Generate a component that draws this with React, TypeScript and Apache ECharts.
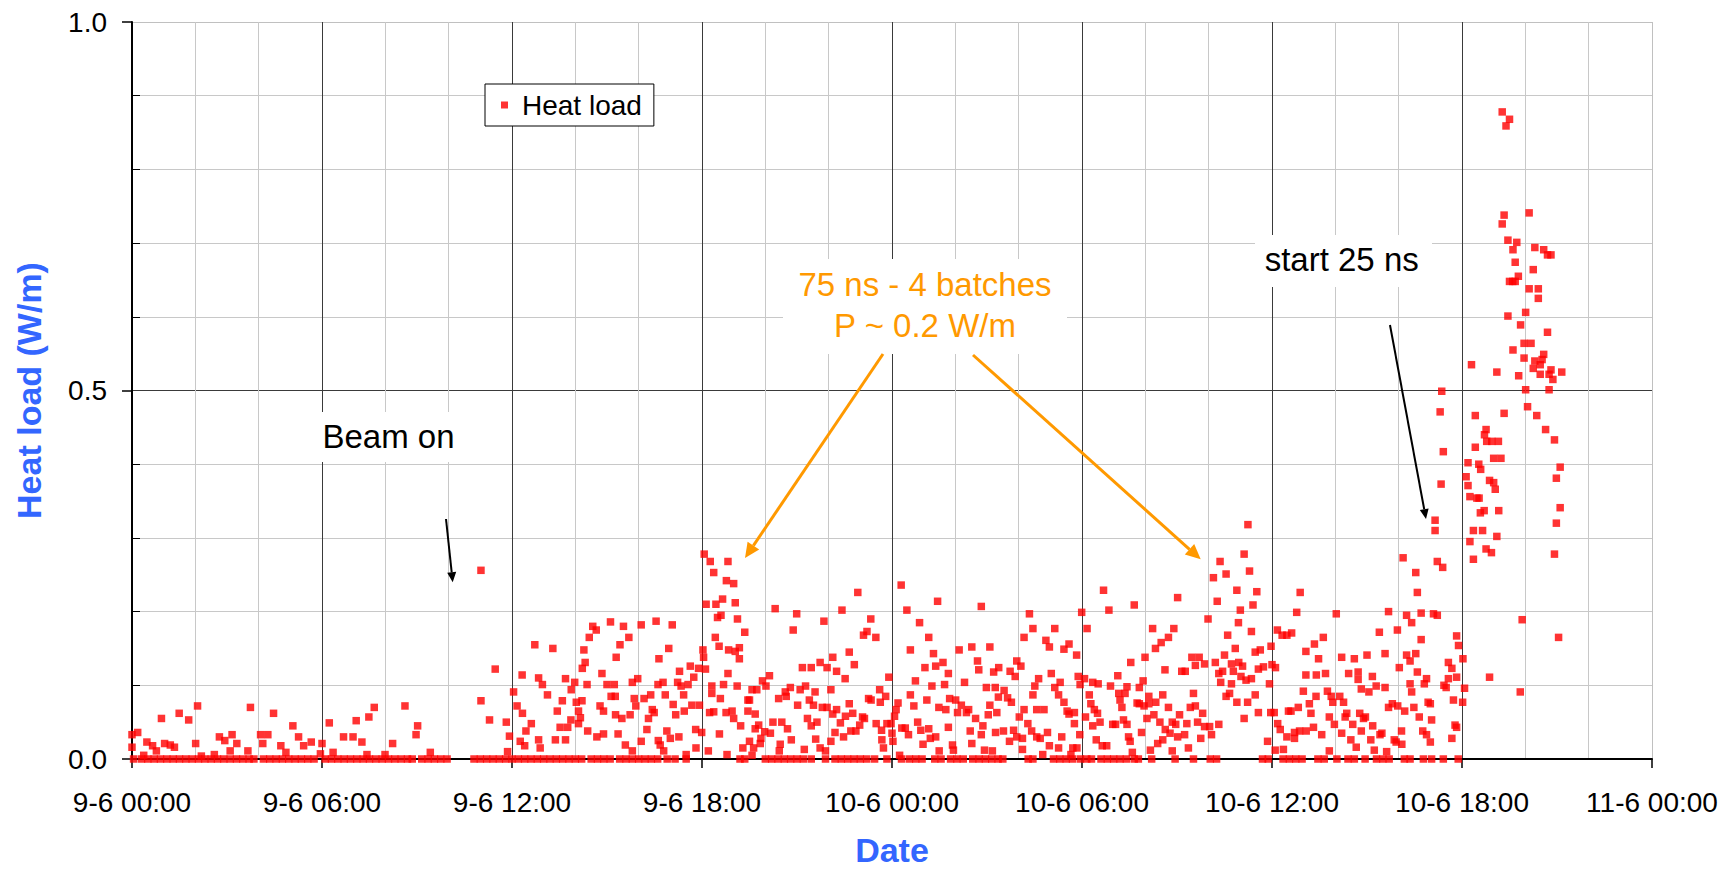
import React, { useEffect, useRef } from 'react';
import * as echarts from 'echarts';

type P = [number, number];

const FONT = "'Liberation Sans', Arial, sans-serif";

// hours after 9-6 00:00
const xTickLabels = ['9-6 00:00', '9-6 06:00', '9-6 12:00', '9-6 18:00', '10-6 00:00', '10-6 06:00', '10-6 12:00', '10-6 18:00', '11-6 00:00'];
const yTickLabels = ['0.0', '0.5', '1.0'];

// samples sitting on zero heat load (hour)
const zeroHours: number[] = [
  0.05, 0.3, 0.5, 0.7, 0.9, 1.1, 1.3, 1.5, 1.7, 1.9, 2.1, 2.3, 2.5, 2.7, 2.9, 3.1, 3.3, 3.5, 3.7, 3.85, 4.15, 4.35, 4.55, 4.75, 4.95,
  5.15, 5.35, 5.55, 5.75, 6.1, 6.3, 6.5, 6.7, 6.9, 7.1, 7.3, 7.5, 7.7, 7.9, 8.1, 8.3, 8.5, 8.7, 8.85, 9.15, 9.35, 9.55, 9.75, 9.95,
  10.8, 11.0, 11.2, 11.4, 11.6, 11.8, 12.0, 12.2, 12.4, 12.6, 12.8, 13.0, 13.2, 13.4, 13.6, 13.8, 14.0, 14.2, 14.5, 14.7, 14.9,
  15.1, 15.4, 15.6, 15.8, 16.0, 16.2, 16.4, 16.6, 16.9, 17.15, 17.5,
  19.2, 19.35, 20.0, 20.2, 20.4, 20.6, 20.8, 21.0, 21.2, 21.45, 21.9, 22.2, 22.4, 22.6, 22.8, 23.0, 23.2, 23.45, 23.84, 24.3, 24.55,
  24.75, 24.95, 25.35, 25.55, 25.85, 26.05, 26.25, 26.55, 26.75, 26.95, 27.15, 27.35,
  27.5, 28.3, 28.45, 29.1, 29.3, 29.5, 29.7, 29.95, 30.15, 30.3, 30.6, 30.8, 31.0, 31.2, 31.4, 31.65, 31.78, 32.2, 32.94, 33.52,
  34.05, 34.25, 35.7, 35.88, 36.35, 36.55, 36.75, 36.95, 37.45, 37.65, 38.05, 38.4, 38.6, 38.94, 39.3, 39.5, 39.7, 40.18, 40.36,
  40.78, 41.04, 41.41, 41.88,
];

// 9-6 00:00 - 10:00, no beam
const noBeamPoints: P[] = [
  [0.0, 0.016], [0.0, 0.033], [0.18, 0.036], [0.37, 0.005], [0.47, 0.023], [0.65, 0.018], [0.77, 0.011], [0.93, 0.055], [1.03, 0.021],
  [1.21, 0.019], [1.34, 0.016], [1.49, 0.062], [1.79, 0.053], [2.01, 0.021], [2.07, 0.072], [2.19, 0.004], [2.6, 0.006], [2.76, 0.030],
  [2.93, 0.025], [3.1, 0.011], [3.16, 0.033], [3.31, 0.021], [3.66, 0.011], [3.74, 0.070], [4.06, 0.033], [4.13, 0.021], [4.29, 0.033],
  [4.47, 0.062], [4.7, 0.018], [4.86, 0.009], [5.08, 0.045], [5.26, 0.030], [5.42, 0.018], [5.66, 0.023], [5.95, 0.007], [6.0, 0.021],
  [6.23, 0.049], [6.35, 0.009], [6.68, 0.030], [6.98, 0.030], [7.08, 0.052], [7.26, 0.023], [7.42, 0.006], [7.48, 0.057], [7.65, 0.070],
  [7.99, 0.006], [8.23, 0.021], [8.62, 0.072], [8.97, 0.033], [9.02, 0.045], [9.42, 0.009],
];

// 9-6 11:00 - 18:00, first fills
const firstFillPoints: P[] = [
  [11.02, 0.256], [11.47, 0.122], [11.02, 0.079], [11.29, 0.053], [11.82, 0.050], [11.92, 0.031], [11.86, 0.010], [12.05, 0.091],
  [12.16, 0.072], [12.33, 0.062], [12.32, 0.114], [12.26, 0.024], [12.44, 0.038], [12.61, 0.048], [12.4, 0.018], [12.72, 0.155],
  [12.84, 0.110], [12.96, 0.101], [12.84, 0.026], [12.89, 0.015], [13.12, 0.087], [13.29, 0.150], [13.37, 0.026], [13.43, 0.065],
  [13.52, 0.043], [13.59, 0.079], [13.69, 0.109], [13.69, 0.026], [13.76, 0.043], [13.86, 0.053], [13.87, 0.094], [13.98, 0.104],
  [14.03, 0.077], [14.1, 0.065], [14.16, 0.056], [14.1, 0.048], [14.21, 0.079], [14.22, 0.123], [14.27, 0.148], [14.31, 0.131],
  [14.37, 0.101], [14.39, 0.038], [14.44, 0.165], [14.55, 0.180], [14.66, 0.175], [14.68, 0.030], [14.78, 0.072], [14.84, 0.116],
  [14.89, 0.065], [14.89, 0.034], [15.0, 0.101], [15.11, 0.186], [15.13, 0.085], [15.23, 0.101], [15.26, 0.085], [15.29, 0.138],
  [15.27, 0.060], [15.35, 0.034], [15.41, 0.155], [15.47, 0.055], [15.52, 0.180], [15.58, 0.019], [15.69, 0.165], [15.73, 0.060],
  [15.8, 0.104], [15.8, 0.011], [15.86, 0.082], [15.91, 0.072], [15.97, 0.109], [16.08, 0.182], [16.08, 0.024], [16.17, 0.082],
  [16.26, 0.040], [16.31, 0.055], [16.38, 0.087], [16.43, 0.067], [16.49, 0.063], [16.55, 0.187], [16.61, 0.101], [16.62, 0.025],
  [16.68, 0.019], [16.77, 0.104], [16.79, 0.011], [16.64, 0.136], [16.84, 0.087], [16.89, 0.038], [16.95, 0.150], [17.0, 0.028],
  [17.06, 0.182], [17.09, 0.074], [17.17, 0.060], [17.23, 0.104], [17.27, 0.030], [17.29, 0.119], [17.34, 0.099], [17.42, 0.087],
  [17.44, 0.065], [17.5, 0.006], [17.56, 0.101], [17.63, 0.126], [17.68, 0.073], [17.74, 0.111], [17.8, 0.040], [17.81, 0.015],
  [17.89, 0.123], [17.92, 0.073], [17.99, 0.036],
];

// 9-6 18:00 - 10-6 03:30, 75 ns
const eveningPoints: P[] = [
  [18.03, 0.148], [18.05, 0.138], [18.11, 0.122], [18.2, 0.011], [18.07, 0.278], [18.26, 0.268], [18.37, 0.253], [18.13, 0.210],
  [18.44, 0.210], [18.65, 0.217], [18.77, 0.242], [18.49, 0.192], [18.6, 0.195], [18.42, 0.165], [18.54, 0.153], [18.84, 0.148],
  [18.82, 0.116], [18.68, 0.101], [18.31, 0.099], [18.31, 0.089], [18.58, 0.082], [18.37, 0.064], [18.24, 0.063], [18.76, 0.063],
  [18.55, 0.034], [18.79, 0.006], [18.82, 0.268], [18.95, 0.065], [19.0, 0.238], [19.05, 0.212], [19.12, 0.190], [19.35, 0.172],
  [19.18, 0.151], [19.05, 0.146], [19.18, 0.136], [19.11, 0.099], [19.0, 0.055], [19.22, 0.045], [19.29, 0.015], [19.45, 0.080],
  [19.5, 0.080], [19.45, 0.065], [19.5, 0.024], [19.58, 0.094], [19.68, 0.061], [19.73, 0.094], [19.63, 0.015], [19.58, 0.005],
  [19.68, 0.041], [19.79, 0.046], [19.86, 0.028], [19.91, 0.106], [20.02, 0.099], [20.13, 0.113], [19.84, 0.021], [19.98, 0.037],
  [20.16, 0.035], [20.24, 0.050], [20.31, 0.204], [20.42, 0.082], [20.47, 0.020], [20.44, 0.011], [20.52, 0.050], [20.63, 0.091],
  [20.7, 0.041], [20.66, 0.085], [20.79, 0.097], [20.82, 0.026], [20.88, 0.175], [20.99, 0.197], [21.02, 0.073], [21.1, 0.094],
  [21.17, 0.124], [21.23, 0.013], [21.27, 0.099], [21.33, 0.055], [21.39, 0.080], [21.45, 0.124], [21.52, 0.073], [21.57, 0.091],
  [21.45, 0.045], [21.63, 0.050], [21.59, 0.027], [21.73, 0.131], [21.73, 0.015], [21.8, 0.070], [21.85, 0.187], [21.9, 0.011],
  [21.95, 0.124], [21.95, 0.070], [22.07, 0.094], [22.07, 0.024], [22.13, 0.138], [22.13, 0.061], [22.2, 0.036], [22.25, 0.119],
  [22.25, 0.067], [22.37, 0.049], [22.42, 0.202], [22.47, 0.030], [22.52, 0.109], [22.53, 0.058], [22.65, 0.145], [22.65, 0.075],
  [22.7, 0.038], [22.76, 0.062], [22.81, 0.128], [22.86, 0.038], [22.92, 0.226], [22.98, 0.046], [23.07, 0.057], [23.1, 0.168],
  [23.13, 0.055], [23.21, 0.173], [23.26, 0.082], [23.33, 0.190], [23.34, 0.080], [23.49, 0.165], [23.5, 0.048], [23.61, 0.094],
  [23.63, 0.077], [23.67, 0.039], [23.68, 0.026], [23.73, 0.015], [23.8, 0.085], [23.84, 0.048], [23.9, 0.111], [23.97, 0.048],
  [24.0, 0.035], [24.03, 0.024], [24.08, 0.058], [24.13, 0.067], [24.19, 0.076], [24.24, 0.005], [24.29, 0.236], [24.31, 0.042],
  [24.42, 0.042], [24.47, 0.202], [24.52, 0.033], [24.58, 0.148], [24.58, 0.087], [24.69, 0.072], [24.74, 0.106], [24.81, 0.050],
  [24.87, 0.185], [24.91, 0.039], [24.98, 0.020], [25.04, 0.124], [25.1, 0.080], [25.16, 0.165], [25.16, 0.041], [25.21, 0.028],
  [25.26, 0.099], [25.31, 0.143], [25.38, 0.030], [25.38, 0.126], [25.44, 0.214], [25.48, 0.070], [25.49, 0.011], [25.61, 0.131],
  [25.66, 0.101], [25.7, 0.067], [25.78, 0.116], [25.78, 0.043], [25.82, 0.082], [25.91, 0.019], [25.94, 0.012], [26.01, 0.080],
  [26.07, 0.063], [26.12, 0.148], [26.19, 0.073], [26.29, 0.104], [26.35, 0.063], [26.42, 0.067], [26.47, 0.038], [26.52, 0.152],
  [26.52, 0.021], [26.64, 0.055], [26.7, 0.133], [26.74, 0.121], [26.82, 0.207], [26.82, 0.033], [26.87, 0.045], [26.92, 0.012],
  [26.98, 0.097], [27.04, 0.060], [27.09, 0.152], [27.09, 0.073], [27.17, 0.011], [27.21, 0.118], [27.26, 0.097], [27.27, 0.036],
  [27.31, 0.063], [27.37, 0.124],
];

// 10-6 03:30 - 12:30, 75 ns
const morningPoints: P[] = [
  [27.36, 0.084], [27.54, 0.093], [27.65, 0.083], [27.73, 0.119], [27.77, 0.077], [27.89, 0.112], [27.94, 0.133], [28.07, 0.126],
  [27.52, 0.038], [27.71, 0.024], [27.84, 0.039], [27.94, 0.030], [28.02, 0.057], [28.12, 0.028], [28.17, 0.067], [28.17, 0.165],
  [28.12, 0.013], [28.29, 0.048], [28.34, 0.197], [28.41, 0.038], [28.45, 0.177], [28.45, 0.087], [28.51, 0.099], [28.57, 0.067],
  [28.63, 0.109], [28.57, 0.030], [28.68, 0.028], [28.76, 0.006], [28.8, 0.067], [28.86, 0.161], [28.91, 0.036], [28.97, 0.152],
  [28.97, 0.018], [29.03, 0.116], [29.14, 0.177], [29.14, 0.097], [29.26, 0.087], [29.26, 0.015], [29.31, 0.104], [29.36, 0.030],
  [29.43, 0.149], [29.43, 0.077], [29.53, 0.065], [29.59, 0.156], [29.59, 0.061], [29.65, 0.006], [29.71, 0.015], [29.76, 0.063],
  [29.76, 0.048], [29.83, 0.141], [29.84, 0.015], [29.88, 0.112], [29.93, 0.033], [29.94, 0.101], [29.99, 0.199], [30.08, 0.109],
  [30.11, 0.057], [30.16, 0.177], [30.23, 0.087], [30.28, 0.075], [30.34, 0.104], [30.34, 0.045], [30.39, 0.067], [30.45, 0.026],
  [30.49, 0.062], [30.51, 0.102], [30.57, 0.050], [30.68, 0.229], [30.64, 0.018], [30.78, 0.018], [30.85, 0.202], [30.9, 0.099],
  [30.97, 0.047], [31.06, 0.047], [31.13, 0.113], [31.16, 0.089], [31.2, 0.080], [31.26, 0.070], [31.31, 0.053], [31.36, 0.089],
  [31.42, 0.098], [31.42, 0.047], [31.47, 0.030], [31.52, 0.024], [31.54, 0.131], [31.59, 0.009], [31.65, 0.209], [31.74, 0.076],
  [31.81, 0.097], [31.81, 0.075], [31.88, 0.036], [31.93, 0.106], [31.96, 0.072], [31.99, 0.138], [32.05, 0.055], [32.11, 0.085],
  [32.11, 0.075], [32.16, 0.012], [32.23, 0.177], [32.27, 0.060], [32.32, 0.150], [32.33, 0.077], [32.39, 0.021], [32.46, 0.050],
  [32.5, 0.158], [32.55, 0.087], [32.55, 0.026], [32.62, 0.121], [32.63, 0.040], [32.73, 0.165], [32.73, 0.070], [32.78, 0.035],
  [32.85, 0.050], [32.85, 0.011], [32.9, 0.177], [32.96, 0.047], [33.02, 0.219], [33.02, 0.030], [33.08, 0.060], [33.15, 0.119],
  [33.24, 0.033], [33.26, 0.119], [33.31, 0.048], [33.36, 0.015], [33.42, 0.070], [33.47, 0.138], [33.52, 0.089], [33.58, 0.127],
  [33.58, 0.072], [33.65, 0.050], [33.7, 0.138], [33.75, 0.028], [33.81, 0.062], [33.87, 0.129], [33.87, 0.044], [33.98, 0.190],
  [34.03, 0.044], [34.09, 0.033], [34.15, 0.246], [34.21, 0.131], [34.27, 0.214], [34.32, 0.116], [34.32, 0.047], [34.36, 0.268],
  [34.38, 0.104], [34.44, 0.119], [34.5, 0.141], [34.55, 0.251], [34.55, 0.085], [34.6, 0.168], [34.66, 0.089], [34.72, 0.129],
  [34.72, 0.102], [34.78, 0.119], [34.84, 0.150], [34.89, 0.229], [34.89, 0.077], [34.94, 0.185], [34.95, 0.131], [35.0, 0.202],
  [35.02, 0.112], [35.07, 0.126], [35.12, 0.278], [35.12, 0.055], [35.18, 0.107], [35.23, 0.077], [35.24, 0.318], [35.29, 0.255],
  [35.35, 0.173], [35.35, 0.109], [35.4, 0.209], [35.47, 0.145], [35.47, 0.087], [35.52, 0.227], [35.57, 0.122], [35.57, 0.063],
  [35.63, 0.148], [35.73, 0.125], [35.86, 0.024], [35.92, 0.102], [35.96, 0.063], [35.97, 0.153], [36.0, 0.128], [36.07, 0.063],
  [36.1, 0.012], [36.11, 0.124], [36.17, 0.175], [36.18, 0.048], [36.26, 0.040], [36.32, 0.168], [36.36, 0.013], [36.47, 0.168],
  [36.47, 0.030], [36.52, 0.065],
];

// 10-6 12:30 - 18:00, 75 ns
const afternoonPoints: P[] = [
  [36.62, 0.171], [36.89, 0.226], [36.78, 0.199], [37.07, 0.146], [37.07, 0.114], [37.4, 0.114], [37.34, 0.156], [37.47, 0.136],
  [37.62, 0.165], [37.69, 0.116], [36.99, 0.092], [36.83, 0.070], [36.6, 0.065], [37.18, 0.075], [37.23, 0.062], [37.39, 0.085],
  [37.31, 0.043], [37.08, 0.038], [36.87, 0.038], [36.71, 0.036], [36.71, 0.028], [37.75, 0.092], [37.87, 0.085], [37.92, 0.077],
  [37.81, 0.057], [37.97, 0.047], [37.57, 0.033], [37.81, 0.011], [38.03, 0.197], [38.14, 0.085], [38.2, 0.138], [38.26, 0.077],
  [38.2, 0.035], [38.31, 0.057], [38.36, 0.062], [38.42, 0.116], [38.49, 0.026], [38.55, 0.047], [38.6, 0.136], [38.66, 0.016],
  [38.72, 0.118], [38.72, 0.108], [38.77, 0.062], [38.82, 0.095], [38.82, 0.038], [38.89, 0.055], [38.95, 0.057], [39.0, 0.141],
  [39.06, 0.091], [39.12, 0.026], [39.17, 0.112], [39.18, 0.045], [39.23, 0.012], [39.29, 0.099], [39.39, 0.172], [39.41, 0.033],
  [39.47, 0.035], [39.57, 0.143], [39.57, 0.097], [39.62, 0.010], [39.68, 0.200], [39.68, 0.070], [39.8, 0.075], [39.86, 0.026],
  [39.92, 0.023], [39.96, 0.175], [39.97, 0.072], [40.02, 0.124], [40.09, 0.038], [40.1, 0.020], [40.14, 0.273], [40.19, 0.065],
  [40.25, 0.141], [40.25, 0.195], [40.36, 0.133], [40.36, 0.102], [40.41, 0.185], [40.41, 0.091], [40.48, 0.070], [40.54, 0.253],
  [40.54, 0.143], [40.59, 0.226], [40.59, 0.118], [40.65, 0.057], [40.71, 0.198], [40.71, 0.162], [40.76, 0.038], [40.81, 0.102],
  [40.88, 0.109], [40.88, 0.033], [40.93, 0.077], [41.0, 0.075], [41.0, 0.023], [41.04, 0.053], [41.1, 0.197], [41.15, 0.324],
  [41.15, 0.310], [41.22, 0.195], [41.22, 0.268], [41.34, 0.373], [41.39, 0.260], [41.43, 0.100], [41.5, 0.097], [41.57, 0.131],
  [41.68, 0.123], [41.57, 0.109], [41.68, 0.028], [41.73, 0.080], [41.78, 0.046], [41.83, 0.043], [41.83, 0.167], [41.89, 0.154],
  [41.83, 0.111], [42.03, 0.136], [42.08, 0.096], [42.02, 0.077],
];

// 10-6 17:15 onwards, 25 ns
const start25nsPoints: P[] = [
  [41.41, 0.417], [41.36, 0.499], [41.31, 0.471], [42.19, 0.402], [42.53, 0.400], [42.59, 0.393], [42.13, 0.383], [42.19, 0.371],
  [42.25, 0.356], [42.47, 0.354], [42.54, 0.354], [42.87, 0.378], [43.0, 0.375], [43.05, 0.366], [42.58, 0.334], [42.7, 0.337],
  [43.16, 0.337], [42.36, 0.310], [42.65, 0.310], [43.1, 0.302], [42.25, 0.295], [42.76, 0.285], [42.93, 0.280], [42.36, 0.271],
  [42.42, 0.423], [42.78, 0.431], [42.94, 0.431], [43.15, 0.431], [43.0, 0.408], [43.23, 0.408], [45.1, 0.396], [44.98, 0.381],
  [45.1, 0.341], [44.98, 0.320], [44.92, 0.278], [44.92, 0.433], [42.87, 0.111], [43.84, 0.091], [43.9, 0.189], [45.05, 0.165],
  [43.27, 0.878], [43.5, 0.868], [43.39, 0.859], [43.33, 0.738], [43.27, 0.726], [44.12, 0.741], [43.45, 0.704], [43.73, 0.701],
  [43.61, 0.691], [44.3, 0.694], [44.58, 0.691], [44.7, 0.684], [44.81, 0.684], [43.68, 0.674], [44.25, 0.664], [43.78, 0.655],
  [43.5, 0.648], [43.6, 0.648], [43.68, 0.648], [44.12, 0.638], [44.41, 0.638], [44.41, 0.625], [44.01, 0.606], [43.45, 0.601],
  [43.85, 0.589], [44.7, 0.579], [43.96, 0.564], [44.18, 0.564], [43.61, 0.555], [43.96, 0.544], [44.58, 0.549], [44.3, 0.540],
  [44.53, 0.542], [44.47, 0.535], [44.25, 0.530], [44.81, 0.528], [45.15, 0.525], [42.3, 0.535], [43.1, 0.525], [43.79, 0.520],
  [44.47, 0.522], [44.75, 0.522], [44.87, 0.515], [44.01, 0.501], [44.75, 0.501], [44.07, 0.478], [42.42, 0.466], [43.33, 0.469],
  [44.36, 0.466], [44.64, 0.447], [42.76, 0.447], [42.71, 0.440],
];

const ORANGE = '#FF9900';
const BLUE = '#3366FF';

export default function App() {
  const ref = useRef<HTMLDivElement>(null);

  useEffect(() => {
    const chart = echarts.init(ref.current as HTMLDivElement, null, { renderer: 'svg' });
    const data: P[] = [
      ...zeroHours.map((h): P => [h, 0]),
      ...noBeamPoints,
      ...firstFillPoints,
      ...eveningPoints,
      ...morningPoints,
      ...afternoonPoints,
      ...start25nsPoints,
    ];
    const xMajorColors = xTickLabels.map((_, i) => (i === xTickLabels.length - 1 ? '#c0c0c0' : '#3a3a3a'));
    const yMajorColors = yTickLabels.map((_, i) => (i === yTickLabels.length - 1 ? '#c0c0c0' : '#3a3a3a'));

    chart.setOption({
      animation: false,
      backgroundColor: '#ffffff',
      textStyle: { fontFamily: FONT },
      grid: { left: 132, top: 22, right: 71, bottom: 110, containLabel: false, outerBoundsMode: 'none' },
      legend: {
        data: ['Heat load'],
        left: 485,
        top: 84,
        padding: [7, 12, 7, 16],
        backgroundColor: '#ffffff',
        borderColor: '#000000',
        borderWidth: 1,
        borderRadius: 0,
        itemWidth: 7,
        itemHeight: 7,
        icon: 'rect',
        textStyle: { fontSize: 28, color: '#000', fontFamily: FONT, padding: [0, 0, 0, 9] },
      },
      xAxis: {
        type: 'value',
        min: 0,
        max: 48,
        interval: 6,
        name: 'Date',
        nameLocation: 'middle',
        nameGap: 74,
        nameTextStyle: { fontSize: 34, fontWeight: 'bold', color: BLUE, fontFamily: FONT },
        axisLine: { show: true, onZero: false, lineStyle: { color: '#000', width: 2 } },
        axisTick: { show: true, length: 9, lineStyle: { color: '#000', width: 1.5 } },
        axisLabel: {
          fontSize: 28,
          color: '#000',
          fontFamily: FONT,
          margin: 29,
          formatter: (v: number) => xTickLabels[Math.round(v / 6)] ?? '',
        },
        splitLine: { show: true, lineStyle: { color: xMajorColors, width: 1 } },
        minorTick: { show: false, splitNumber: 3 },
        minorSplitLine: { show: true, lineStyle: { color: '#c8c8c8', width: 1 } },
      },
      yAxis: [
        {
          type: 'value',
          min: 0,
          max: 1,
          interval: 0.5,
          position: 'left',
          name: 'Heat load (W/m)',
          nameLocation: 'middle',
          nameGap: 86,
          nameTextStyle: { fontSize: 34, fontWeight: 'bold', color: BLUE, fontFamily: FONT },
          axisLine: { show: true, lineStyle: { color: '#000', width: 2 } },
          axisTick: { show: true, length: 10, lineStyle: { color: '#000', width: 1.5 } },
          axisLabel: {
            fontSize: 28,
            color: '#000',
            fontFamily: FONT,
            margin: 25,
            formatter: (v: number) => yTickLabels[Math.round(v / 0.5)] ?? '',
          },
          splitLine: { show: true, lineStyle: { color: yMajorColors, width: 1 } },
          minorTick: { show: false, splitNumber: 5 },
          minorSplitLine: { show: true, lineStyle: { color: '#c8c8c8', width: 1 } },
        },
        {
          type: 'value',
          min: 0,
          max: 1,
          interval: 0.5,
          position: 'left',
          offset: 0,
          axisLine: { show: false },
          axisTick: { show: false, inside: true },
          axisLabel: { show: false },
          splitLine: { show: false },
          minorTick: { show: true, splitNumber: 5, length: 8, lineStyle: { color: '#000', width: 1 } },
        },
      ],
      series: [
        {
          name: 'Heat load',
          type: 'scatter',
          symbol: 'rect',
          symbolSize: 7.5,
          itemStyle: { color: '#FF0000' },
          data,
          z: 3,
        },
      ],
      graphic: [
        // Beam on
        { type: 'rect', z: 50, shape: { x: 311, y: 412, width: 155, height: 50 }, style: { fill: '#fff' } },
        { type: 'text', z: 51, x: 388.5, y: 436, style: { text: 'Beam on', font: `33px ${FONT}`, fill: '#000', align: 'center', verticalAlign: 'middle' } },
        { type: 'line', z: 51, shape: { x1: 446, y1: 519, x2: 451.7, y2: 572.3 }, style: { stroke: '#000', lineWidth: 2 } },
        { type: 'polygon', z: 51, shape: { points: [[452.7, 582.3], [456.2, 571.8], [447.2, 572.8]] }, style: { fill: '#000' } },
        // 75 ns annotation
        { type: 'rect', z: 50, shape: { x: 783, y: 259, width: 284, height: 95 }, style: { fill: '#fff' } },
        { type: 'text', z: 51, x: 925, y: 284, style: { text: '75 ns - 4 batches', font: `33px ${FONT}`, fill: ORANGE, align: 'center', verticalAlign: 'middle' } },
        { type: 'text', z: 51, x: 925, y: 325, style: { text: 'P ~ 0.2 W/m', font: `33px ${FONT}`, fill: ORANGE, align: 'center', verticalAlign: 'middle' } },
        { type: 'line', z: 51, shape: { x1: 883, y1: 354, x2: 753.4, y2: 545.6 }, style: { stroke: ORANGE, lineWidth: 3 } },
        { type: 'polygon', z: 51, shape: { points: [[745, 558], [759.2, 549.5], [747.6, 541.7]] }, style: { fill: ORANGE } },
        { type: 'line', z: 51, shape: { x1: 973, y1: 355, x2: 1189.5, y2: 549.3 }, style: { stroke: ORANGE, lineWidth: 3 } },
        { type: 'polygon', z: 51, shape: { points: [[1200.7, 559.3], [1184.8, 554.5], [1194.2, 544.1]] }, style: { fill: ORANGE } },
        // start 25 ns
        { type: 'rect', z: 50, shape: { x: 1255, y: 235, width: 177, height: 52 }, style: { fill: '#fff' } },
        { type: 'text', z: 51, x: 1341.7, y: 259, style: { text: 'start 25 ns', font: `33px ${FONT}`, fill: '#000', align: 'center', verticalAlign: 'middle' } },
        { type: 'line', z: 51, shape: { x1: 1390, y1: 325, x2: 1424.2, y2: 509.2 }, style: { stroke: '#000', lineWidth: 2 } },
        { type: 'polygon', z: 51, shape: { points: [[1426, 519], [1428.6, 508.4], [1419.8, 510.0]] }, style: { fill: '#000' } },
      ],
    });

    return () => chart.dispose();
  }, []);

  return (
    <div
      ref={ref}
      style={{ position: 'fixed', left: 0, top: 0, width: 1723, height: 869, background: '#fff' }}
    />
  );
}
